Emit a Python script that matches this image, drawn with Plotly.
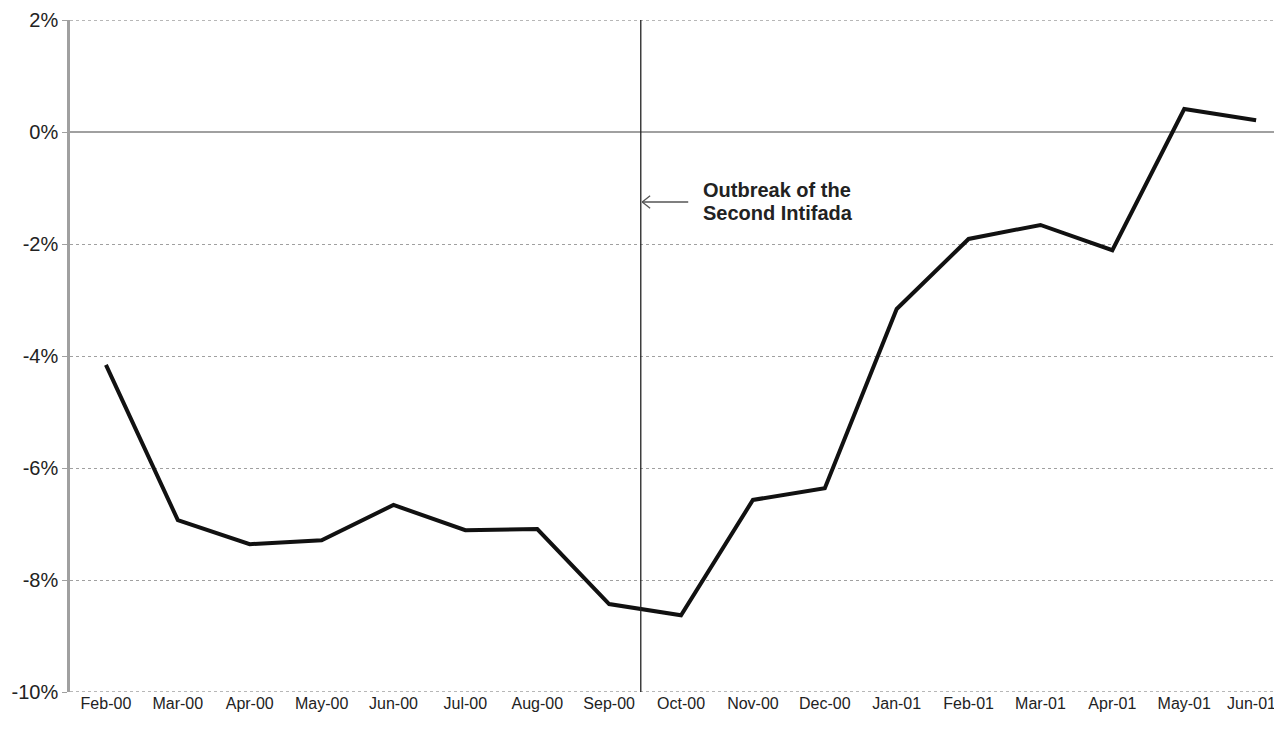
import plotly.graph_objects as go

months = ["Feb-00", "Mar-00", "Apr-00", "May-00", "Jun-00", "Jul-00", "Aug-00", "Sep-00",
          "Oct-00", "Nov-00", "Dec-00", "Jan-01", "Feb-01", "Mar-01", "Apr-01", "May-01", "Jun-01"]
values = [-4.16, -6.93, -7.36, -7.29, -6.66, -7.11, -7.09, -8.43,
          -8.63, -6.57, -6.36, -3.16, -1.91, -1.66, -2.11, 0.41, 0.21]
y_ticks = [2, 0, -2, -4, -6, -8, -10]
y_tick_labels = ["2%", "0%", "-2%", "-4%", "-6%", "-8%", "-10%"]
event_x = 7.44
event_label_lines = ["Outbreak of the", "Second Intifada"]

FONT = "Liberation Sans, Arial, Helvetica, sans-serif"
XFONT = 16

fig = go.Figure()
fig.add_trace(go.Scatter(
    x=list(range(len(months))), y=values, mode="lines",
    line=dict(color="#111111", width=4), showlegend=False, hoverinfo="skip"))

# vertical event line
fig.add_shape(type="line", x0=event_x, x1=event_x, y0=-10, y1=2, xref="x", yref="y",
              line=dict(color="#222222", width=1.3))

# arrow (line with open chevron)
ay = -1.25
fig.add_shape(type="line", x0=event_x + 0.66, x1=event_x + 0.02, y0=ay, y1=ay,
              line=dict(color="#555555", width=1.3))
fig.add_shape(type="line", x0=event_x + 0.02, x1=event_x + 0.13, y0=ay, y1=ay + 0.11,
              line=dict(color="#555555", width=1.3))
fig.add_shape(type="line", x0=event_x + 0.02, x1=event_x + 0.13, y0=ay, y1=ay - 0.11,
              line=dict(color="#555555", width=1.3))

for i, line_text in enumerate(event_label_lines):
    fig.add_annotation(x=event_x + 0.84, y=ay + 0.21 - 0.41 * i, xref="x", yref="y",
                       text="<b>" + line_text + "</b>",
                       showarrow=False, xanchor="left", yanchor="middle", align="left",
                       font=dict(family=FONT, size=20, color="#222222"))

# dotted border lines at top and bottom of the value range
for yv in (y_ticks[0], y_ticks[-1]):
    fig.add_shape(type="line", xref="paper", x0=0, x1=1, yref="y", y0=yv, y1=yv,
                  line=dict(color="#a0a0a0", width=1.5, dash="dot"), layer="below")

# last month label drawn as annotation so it stays inside the visible page edge
tick_text = months[:-1] + [""]
fig.add_annotation(x=len(months) - 1, y=0, xref="x", yref="paper", text=months[-1],
                   showarrow=False, xanchor="center", yanchor="top", xshift=-5, yshift=-1,
                   font=dict(family=FONT, size=XFONT, color="#222222"))

fig.update_layout(
    width=1274, height=705,
    margin=dict(l=62, r=0, t=12, b=21),
    paper_bgcolor="white", plot_bgcolor="white",
    font=dict(family=FONT, color="#222222"),
    xaxis=dict(
        tickmode="array", tickvals=list(range(len(months))), ticktext=tick_text,
        range=[-0.5, 16.36], showgrid=False, showline=False, zeroline=False,
        ticks="", tickfont=dict(size=XFONT), ticklabelstandoff=0, automargin=False,
        ticklabeloverflow="allow"),
    yaxis=dict(
        tickmode="array", tickvals=y_ticks, ticktext=y_tick_labels,
        range=[-10, 2], showgrid=True, gridcolor="#a0a0a0", griddash="dot", gridwidth=1,
        zeroline=True, zerolinecolor="#a0a0a0", zerolinewidth=2,
        showline=True, linecolor="#a0a0a0", linewidth=2.5, automargin=False,
        ticks="outside", ticklen=5, tickcolor="#a0a0a0", tickfont=dict(size=20)),
)
fig.write_html("out.html")
